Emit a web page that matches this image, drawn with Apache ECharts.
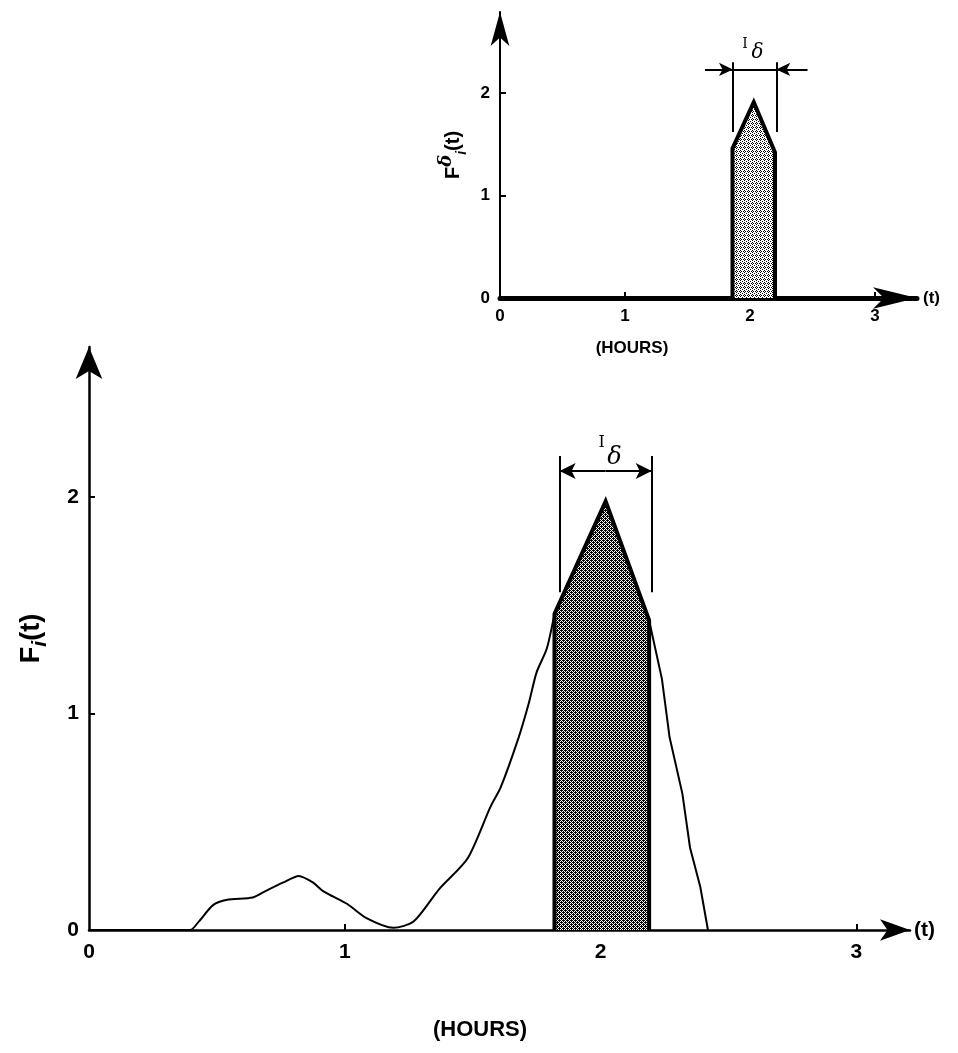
<!DOCTYPE html>
<html>
<head>
<meta charset="utf-8">
<title>F_i(t)</title>
<script src="https://cdn.jsdelivr.net/npm/echarts@6/dist/echarts.min.js"></script>
<style>
html,body{margin:0;padding:0;background:#fff;}
#chart{width:958px;height:1053px;}
</style>
</head>
<body>
<div id="chart"></div>
<script>
// main curve F_i(t) (t in hours)
var mainRise = [[0,0],[0.395,0],[0.43,0.04],[0.485,0.115],[0.54,0.14],[0.64,0.15],[0.69,0.18],[0.76,0.22],[0.82,0.25],[0.875,0.22],[0.915,0.18],[1.01,0.12],[1.085,0.055],[1.19,0.01],[1.27,0.04],[1.37,0.19],[1.48,0.33],[1.57,0.57],[1.61,0.66],[1.68,0.89],[1.72,1.05],[1.75,1.19],[1.79,1.3],[1.82,1.46]];
var mainTail = [[2.19,1.43],[2.24,1.16],[2.27,0.89],[2.32,0.63],[2.35,0.38],[2.39,0.2],[2.42,0]];
// shaded window I_delta
var mainWindow = [[1.82,0],[1.82,1.46],[2.02,1.98],[2.19,1.43],[2.19,0]];
var insetWindow = [[1.86,0],[1.86,1.46],[2.03,1.91],[2.2,1.42],[2.2,0]];
// tick labels
var xLabels = [0,1,2,3];
var yLabels = [0,1,2];
var xTicks = [1,2,3];
var yTicks = [1,2];
// I_delta dimension marks
var mainMarkT = [1.84, 2.20];
var mainMarkF = [1.56, 2.19];
var mainArrowF = 2.12;
var insetMarkT = [1.864, 2.21];
var insetMarkF = [1.62, 2.30];
var insetArrowF = 2.23;
var insetArrowTails = [1.64, 2.46];

function stipple(dark) {
	var c = document.createElement('canvas');
	c.width = 4; c.height = 4;
	var ctx = c.getContext('2d');
	ctx.fillStyle = '#fff';
	ctx.fillRect(0, 0, 4, 4);
	ctx.fillStyle = '#000';
	var px = dark ? [[0,0],[2,0],[1,1],[3,1],[0,2],[2,2],[1,3],[3,3],[3,0],[1,2]] : [[0,0],[2,1],[0,2],[3,3],[1,3]];
	px.forEach(function (p) { ctx.fillRect(p[0], p[1], 1, 1); });
	return c;
}

var chart = echarts.init(document.getElementById('chart'));
var font = 'Liberation Sans';
var bold = {color: '#000', fontFamily: font, fontWeight: 'bold'};

function xAxisOf(grid, max, lw, arrow, fs, margin, gap) {
	return {
		gridIndex: grid, type: 'value', min: 0, max: max,
		name: '(t)', nameLocation: 'end', nameGap: gap,
		nameTextStyle: Object.assign({fontSize: fs}, bold),
		axisLine: {onZero: false, lineStyle: {color: '#000', width: lw}, symbol: ['none', 'arrow'], symbolSize: arrow},
		axisTick: {show: true, inside: true, length: 6, customValues: xTicks, lineStyle: {color: '#000', width: 2}},
		axisLabel: Object.assign({fontSize: fs, margin: margin, customValues: xLabels}, bold),
		splitLine: {show: false}
	};
}
function yAxisOf(grid, max, lw, arrow, fs, name, nfs, gap) {
	return {
		gridIndex: grid, type: 'value', min: 0, max: max,
		name: name, nameLocation: 'middle', nameRotate: 90, nameGap: gap,
		nameTextStyle: {
			color: '#000', fontFamily: font, fontWeight: 'bold', fontSize: nfs,
			rich: {
				f: {fontSize: nfs, fontWeight: 'bold', fontFamily: font, lineHeight: nfs + 12, color: '#000'},
				s: {fontSize: nfs - 6, fontStyle: 'italic', fontWeight: 'bold', fontFamily: font, verticalAlign: 'bottom', lineHeight: nfs + 12, color: '#000'},
				d: {fontSize: nfs - 2, fontStyle: 'italic', fontFamily: 'DejaVu Serif', verticalAlign: 'top', lineHeight: nfs + 12, color: '#000'}
			}
		},
		axisLine: {onZero: false, lineStyle: {color: '#000', width: lw}, symbol: ['none', 'arrow'], symbolSize: arrow},
		axisTick: {show: true, inside: true, length: 6, customValues: yTicks, lineStyle: {color: '#000', width: 2}},
		axisLabel: Object.assign({fontSize: fs, margin: 10, customValues: yLabels}, bold),
		splitLine: {show: false}
	};
}

function label(text, t, f, fs, family, italic) {
	return {
		coord: [t, f], symbolSize: 0,
		label: {show: true, position: 'inside', formatter: text, color: '#000', fontSize: fs, fontFamily: family, fontStyle: italic ? 'italic' : 'normal'}
	};
}

var option = {
	animation: false,
	backgroundColor: '#fff',
	grid: [
		{left: 89, top: 347, width: 821, height: 583},
		{left: 500, top: 12, width: 417, height: 286}
	],
	xAxis: [
		xAxisOf(0, 3.21, 2.5, [16, 30], 21, 12, 4),
		xAxisOf(1, 3.336, 5, [16, 44], 17, 10, 6)
	],
	yAxis: [
		yAxisOf(0, 2.693, 2.5, [20, 32], 21, '{f|F}{s|i}{f|(t)}', 27, 38),
		yAxisOf(1, 2.79, 2, [14, 34], 17, '{f|F}{d|δ}{s|i}{f|(t)}', 20, 31)
	],
	graphic: [
		{type: 'text', x: 480, y: 1030, style: {text: '(HOURS)', align: 'center', verticalAlign: 'middle', fontSize: 22, fontWeight: 'bold', fontFamily: font, fill: '#000'}},
		{type: 'text', x: 632, y: 348, style: {text: '(HOURS)', align: 'center', verticalAlign: 'middle', fontSize: 17, fontWeight: 'bold', fontFamily: font, fill: '#000'}}
	],
	series: [
		{
			type: 'line', xAxisIndex: 0, yAxisIndex: 0, data: mainRise,
			smooth: 0.25, symbol: 'none',
			lineStyle: {color: '#000', width: 2}, silent: true
		},
		{
			type: 'line', xAxisIndex: 0, yAxisIndex: 0, data: mainTail,
			symbol: 'none', lineStyle: {color: '#000', width: 2}, silent: true
		},
		{
			type: 'line', xAxisIndex: 0, yAxisIndex: 0, data: mainWindow,
			symbol: 'none', lineStyle: {color: '#000', width: 4, join: 'miter'},
			areaStyle: {color: {image: stipple(true), repeat: 'repeat'}, opacity: 1},
			silent: true,
			markLine: {
				silent: true, symbol: ['none', 'none'], symbolSize: [12, 16],
				label: {show: false}, lineStyle: {color: '#000', width: 2, type: 'solid'},
				data: [
					[{coord: [mainMarkT[0], mainMarkF[0]]}, {coord: [mainMarkT[0], mainMarkF[1]]}],
					[{coord: [mainMarkT[1], mainMarkF[0]]}, {coord: [mainMarkT[1], mainMarkF[1]]}],
					[{coord: [(mainMarkT[0] + mainMarkT[1]) / 2, mainArrowF]}, {coord: [mainMarkT[0], mainArrowF], symbol: 'arrow'}],
					[{coord: [(mainMarkT[0] + mainMarkT[1]) / 2, mainArrowF]}, {coord: [mainMarkT[1], mainArrowF], symbol: 'arrow'}]
				]
			},
			markPoint: {
				silent: true, symbol: 'circle',
				data: [
					label('I', 2.004, 2.25, 16, 'DejaVu Serif', false),
					label('δ', 2.055, 2.18, 24, 'DejaVu Serif', true)
				]
			}
		},
		{
			type: 'line', xAxisIndex: 1, yAxisIndex: 1, data: insetWindow,
			symbol: 'none', lineStyle: {color: '#000', width: 4, join: 'miter'},
			areaStyle: {color: {image: stipple(false), repeat: 'repeat'}, opacity: 1},
			silent: true,
			markLine: {
				silent: true, symbol: ['none', 'none'], symbolSize: [10, 14],
				label: {show: false}, lineStyle: {color: '#000', width: 2, type: 'solid'},
				data: [
					[{coord: [insetMarkT[0], insetMarkF[0]]}, {coord: [insetMarkT[0], insetMarkF[1]]}],
					[{coord: [insetMarkT[1], insetMarkF[0]]}, {coord: [insetMarkT[1], insetMarkF[1]]}],
					[{coord: [insetMarkT[0], insetArrowF]}, {coord: [insetMarkT[1], insetArrowF]}],
					[{coord: [insetArrowTails[0], insetArrowF]}, {coord: [insetMarkT[0], insetArrowF], symbol: 'arrow'}],
					[{coord: [insetArrowTails[1], insetArrowF]}, {coord: [insetMarkT[1], insetArrowF], symbol: 'arrow'}]
				]
			},
			markPoint: {
				silent: true, symbol: 'circle',
				data: [
					label('I', 1.96, 2.47, 14, 'DejaVu Serif', false),
					label('δ', 2.06, 2.39, 20, 'DejaVu Serif', true)
				]
			}
		}
	]
};
chart.setOption(option);
</script>
</body>
</html>
